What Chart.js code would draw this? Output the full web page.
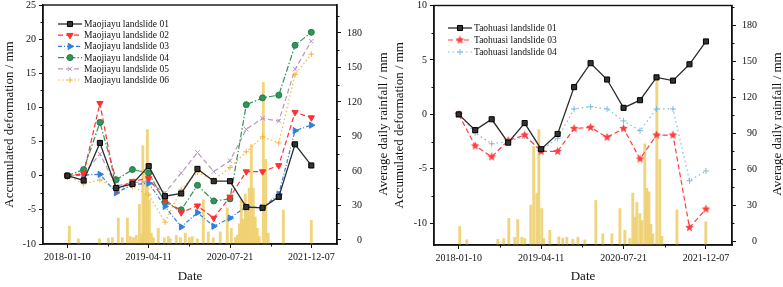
<!DOCTYPE html>
<html><head><meta charset="utf-8">
<script src="https://cdn.jsdelivr.net/npm/chart.js@4/dist/chart.umd.min.js"></script>
<style>
html,body{margin:0;padding:0;background:#fff;}
#wrap{position:relative;width:783px;height:287px;overflow:hidden;}
.c{position:absolute;top:0;height:287px;}
#c1{left:0;width:390px;}
#c2{left:390px;width:393px;}
</style></head><body>
<div id="wrap"><div class="c" id="c1"><canvas id="left"></canvas></div><div class="c" id="c2"><canvas id="right"></canvas></div></div>
<script>
// ---- data ----
const xTickLabels = ['2018-01-10','2019-04-11','2020-07-21','2021-12-07'];
const surveyIndex = [0,1,2,3,4,5,6,7,8,9,10,11,12,13,14,15];

const mao01 = [0,-0.7,4.8,-1.8,-1.2,1.4,-3.0,-2.6,1.0,-0.8,-0.8,-4.6,-4.7,-3.1,4.6,1.5];
const mao02 = [0,0.3,10.6,-2.0,-0.8,-0.4,-3.5,-5.4,-4.4,-6.2,-3.1,0.6,0.6,1.5,9.3,8.5];
const mao03 = [0,0.1,0.2,-2.5,-1.3,-1.1,-4.5,-7.5,-5.4,-7.4,-6.2,-4.5,-4.7,-2.7,6.6,7.4];
const mao04 = [0,0.9,7.8,-0.6,0.9,0.4,-3.9,-5.0,-1.4,-3.7,-3.4,10.4,11.4,11.8,19.1,21.0];
const mao05 = [0,0.2,3.2,-1.5,-1.0,-0.9,-2.5,0.4,3.4,0.6,2.2,6.8,8.4,8.0,15.6,19.7];
const mao06 = [0,-1.2,-0.6,-1.9,-1.6,-2.8,-6.8,-2.0,0.5,-0.6,1.2,3.5,5.7,4.8,14.8,17.8];

const maoRainDay = [0.12,0.68,1.97,2.52,2.77,3.13,3.38,3.69,3.87,4.06,4.24,4.43,4.55,4.64,4.73,4.82,4.92,5.04,5.16,5.29,5.59,5.96,6.21,6.33,6.70,6.95,7.25,7.50,7.68,7.99,8.36,8.67,8.97,9.40,9.83,10.08,10.33,10.45,10.57,10.69,10.82,10.94,11.06,11.18,11.31,11.43,11.55,11.68,11.80,12.05,12.20,12.35,13.28,15.0];
const maoRainMm  = [12,1,1,1.5,2,19,2,19,3,2,4,31,5,82,40,60,96,35,6,2,10,2,3,1,4,2,6,2,3,1,35,7,2,7,28,10,2,4,14,35,18,40,25,45,83,45,20,10,3,137,70,6,26,17];

const tao01 = [0,-1.45,-0.45,-2.6,-0.8,-3.2,-1.8,2.5,4.7,3.2,0.6,1.3,3.4,3.1,4.6,6.7];
const tao03 = [0,-2.9,-3.9,-2.4,-1.9,-3.4,-3.4,-1.3,-1.2,-2.1,-1.3,-4.1,-1.9,-1.9,-10.4,-8.7];
const tao04 = [0,-1.7,-2.7,-2.5,-2.0,-3.3,-2.2,0.5,0.7,0.5,-0.6,-1.5,0.5,0.5,-6.1,-5.2];

const taoRainDay = [0.06,0.49,2.37,2.73,3.04,3.40,3.58,3.83,4.01,4.37,4.55,4.74,4.86,5.04,5.16,5.53,6.07,6.31,6.56,6.92,7.23,7.65,8.32,8.74,9.29,9.78,10.08,10.38,10.56,10.69,10.81,10.99,11.11,11.29,11.41,11.54,11.66,11.78,12.02,12.20,12.33,13.24,14.99];
const taoRainMm  = [12,1,1.5,2,19,3,18,3,2,30,79,40,93,27,2,9,3.5,2.5,3,1.5,3,1,34,6,6,27,9,2,40,20,32,23,17,81,44,41,14,6,134,68,4,26,16];

const maoDefTicks = [-10,-5,0,5,10,15,20,25];
const taoDefTicks = [-10,-5,0,5,10];
const rainTicks = [0,30,60,90,120,150,180];
const dateTickPos = [0,5,10,15];

// ---- helpers ----
const FONT = '"Liberation Serif","Times New Roman",serif';
const pts = (xs, ys) => xs.map((x, k) => ({x: x, y: ys[k]}));

function makeStar(color, r){
  const s = Math.ceil(r*2+2), c = document.createElement('canvas');
  c.width = s; c.height = s;
  const g = c.getContext('2d');
  g.fillStyle = color; g.beginPath();
  for (let k = 0; k < 10; k++){
    const a = -Math.PI/2 + k*Math.PI/5, rr = (k % 2) ? r*0.45 : r;
    g.lineTo(s/2 + rr*Math.cos(a), s/2 + rr*Math.sin(a));
  }
  g.closePath(); g.fill();
  return c;
}

function lineDs(label, data, color, dash, style, opts){
  return Object.assign({
    type:'line', label, data: pts(surveyIndex, data), xAxisID:'x', yAxisID:'y',
    borderColor: color, borderWidth: 1.2, borderDash: dash, fill:false, tension:0,
    pointStyle: style, pointRadius: 3.2, pointBorderWidth: 1,
    pointBackgroundColor: color, pointBorderColor: color, pointRotation: 0, order: 1
  }, opts || {});
}

function barDs(days, mm, axisMin){
  return {
    type:'bar', label:'rain', data: pts(days, mm), xAxisID:'x', yAxisID:'y2',
    backgroundColor:'rgba(238,206,108,0.88)', borderWidth:0, barThickness:2.2,
    base: axisMin, order: 10
  };
}

const boxPlugin = {
  id:'box',
  afterDraw(chart){
    const a = chart.chartArea, ctx = chart.ctx;
    ctx.save(); ctx.strokeStyle = '#111'; ctx.lineWidth = 1.4;
    ctx.strokeRect(a.left, a.top, a.right - a.left, a.bottom - a.top);
    ctx.restore();
  }
};

const minorTicks = {
  id:'minorTicks',
  afterDraw(chart, args, opts){
    const ctx = chart.ctx, a = chart.chartArea;
    ctx.save(); ctx.strokeStyle = '#111'; ctx.lineWidth = 1;
    (opts.list || []).forEach(item => {
      const sc = chart.scales[item.axis];
      item.values.forEach(v => {
        const p = Math.round(sc.getPixelForValue(v)) + 0.5;
        ctx.beginPath();
        if (item.axis === 'x'){ ctx.moveTo(p, a.bottom); ctx.lineTo(p, a.bottom + 2.5); }
        else if (sc.position === 'left'){ ctx.moveTo(a.left, p); ctx.lineTo(a.left - 2.5, p); }
        else { ctx.moveTo(a.right, p); ctx.lineTo(a.right + 2.5, p); }
        ctx.stroke();
      });
    });
    ctx.restore();
  }
};

const extraTitles = {
  id:'extraTitles',
  afterDraw(chart, args, opts){
    const ctx = chart.ctx;
    (opts.items || []).forEach(t => {
      ctx.save();
      ctx.translate(t.x, t.y); ctx.rotate(-Math.PI/2);
      ctx.font = '13px ' + FONT; ctx.fillStyle = '#111';
      ctx.textAlign = 'center'; ctx.textBaseline = 'middle';
      ctx.fillText(t.text, 0, 0);
      ctx.restore();
    });
  }
};

const insideLegend = {
  id:'insideLegend',
  afterDraw(chart, args, opts){
    const ctx = chart.ctx;
    let y = opts.y;
    chart.data.datasets.forEach(ds => {
      if (ds.type === 'bar') return;
      ctx.save();
      ctx.strokeStyle = ds.borderColor; ctx.lineWidth = ds.borderWidth;
      ctx.setLineDash(ds.borderDash || []);
      ctx.beginPath(); ctx.moveTo(opts.x, y); ctx.lineTo(opts.x + opts.len, y); ctx.stroke();
      ctx.setLineDash([]);
      ctx.fillStyle = ds.pointBackgroundColor; ctx.strokeStyle = ds.pointBorderColor;
      ctx.lineWidth = ds.pointBorderWidth;
      try {
        Chart.helpers.drawPoint(ctx, {pointStyle: ds.pointStyle, rotation: ds.pointRotation || 0,
          radius: ds.pointRadius, borderWidth: ds.pointBorderWidth}, opts.x + opts.len/2, y);
      } catch(e) {}
      ctx.fillStyle = '#111'; ctx.font = opts.size + 'px ' + FONT;
      ctx.textAlign = 'left'; ctx.textBaseline = 'middle';
      ctx.fillText(ds.label, opts.x + opts.len + 2, y + 0.5);
      ctx.restore();
      y += opts.rowH;
    });
  }
};

function fixTicks(vals){ return s => { s.ticks = vals.map(v => ({value: v})); }; }
function noPad(s){ s.paddingTop = 0; s.paddingBottom = 0; s.paddingLeft = 0; s.paddingRight = 0; }

function buildScales(cfg){
  const grid = () => ({display:true, drawOnChartArea:false, drawTicks:true, tickLength:4, color:'#111', tickWidth:1, offset:false});
  const border = () => ({display:true, color:'#111', width:1.4});
  return {
    x: {
      type:'linear', min:-1.5, max:16.58, offset:false, grid: grid(), border: border(),
      afterBuildTicks: fixTicks(dateTickPos),
      ticks: {autoSkip:false, maxRotation:0, color:'#111', font:{family:FONT, size:10}, padding:3,
        callback: v => xTickLabels[dateTickPos.indexOf(v)]},
      title: {display:true, text:'Date', color:'#111', font:{family:FONT, size:13}, padding:{top:0, bottom:3}},
      afterFit: s => { s.height = cfg.xH; noPad(s); }
    },
    y: {
      type:'linear', position:'left', min: cfg.yMin, max: cfg.yMax, grid: grid(), border: border(),
      afterBuildTicks: fixTicks(cfg.yTicks),
      ticks: {color:'#111', font:{family:FONT, size:10}, padding:3},
      title: {display:true, text:'Accumulated deformation / mm', color:'#111', font:{family:FONT, size:13}, padding:{top:2,bottom:0}},
      afterFit: s => { s.width = cfg.yW; noPad(s); }
    },
    y2: {
      type:'linear', position:'right', min: cfg.rMin, max: cfg.rMax, beginAtZero:false, grid: grid(), border: border(),
      afterBuildTicks: fixTicks(rainTicks),
      ticks: {color:'#111', font:{family:FONT, size:10}, padding:3, crossAlign:'far'},
      title: {display:false},
      afterFit: s => { s.width = cfg.rW; noPad(s); }
    }
  };
}

function minorList(yVals, rVals){
  return [{axis:'x', values:[2.5,7.5,12.5]}, {axis:'y', values:yVals}, {axis:'y2', values:rVals}];
}
const rainMinor = [15,45,75,105,135,165,195];

// ---- left chart ----
new Chart(document.getElementById('left'), {
  type:'line',
  data: { datasets: [
    lineDs('Maojiayu landslide 01', mao01, '#2b2b2b', [], 'rect', {borderWidth:1.3, pointBackgroundColor:'#333', pointBorderColor:'#000', pointRadius:3.6}),
    lineDs('Maojiayu landslide 02', mao02, '#ff3030', [5,3], 'triangle', {pointRotation:180, pointRadius:3.6}),
    lineDs('Maojiayu landslide 03', mao03, '#2f7fe0', [4,2,1,2], 'triangle', {pointRotation:90, pointRadius:3.6}),
    lineDs('Maojiayu landslide 04', mao04, '#2e9658', [6,2,1.5,2], 'circle', {pointRadius:3, pointBorderColor:'#1f7a44'}),
    lineDs('Maojiayu landslide 05', mao05, '#b898bc', [5,3], 'crossRot', {pointRadius:3.2}),
    lineDs('Maojiayu landslide 06', mao06, '#f3b640', [1.5,2.5], 'cross', {pointRadius:2.8}),
    barDs(maoRainDay, maoRainMm, -3.5)
  ]},
  options: {
    responsive:true, maintainAspectRatio:false, devicePixelRatio:1, animation:false,
    layout:{padding:{top:5, left:0, right:28, bottom:0}},
    scales: buildScales({xH:43, yMin:-10, yMax:25, yTicks:maoDefTicks, yW:43, rMin:-3.5, rMax:204.3, rW:25}),
    plugins: {
      legend:{display:false}, tooltip:{enabled:false},
      insideLegend:{x:58, y:24, len:24, rowH:11.2, size:9.5},
      minorTicks:{list: minorList([-7.5,-2.5,2.5,7.5,12.5,17.5,22.5], rainMinor)},
      extraTitles:{items:[{text:'Average daily rainfall / mm', x:384, y:124}]}
    }
  },
  plugins:[boxPlugin, minorTicks, extraTitles, insideLegend]
});

// ---- right chart ----
const starRed = makeStar('#ff3d3d', 4.5);
new Chart(document.getElementById('right'), {
  type:'line',
  data: { datasets: [
    lineDs('Taohuasi landslide 01', tao01, '#2b2b2b', [], 'rect', {borderWidth:1.3, pointBackgroundColor:'#333', pointBorderColor:'#000', pointRadius:3.6}),
    lineDs('Taohuasi landslide 03', tao03, '#ff3d3d', [5,3], starRed, {pointRadius:4.5}),
    lineDs('Taohuasi landslide 04', tao04, '#7fbcd6', [1.5,3], 'cross', {pointRadius:3}),
    barDs(taoRainDay, taoRainMm, -3.3)
  ]},
  options: {
    responsive:true, maintainAspectRatio:false, devicePixelRatio:1, animation:false,
    layout:{padding:{top:3, left:0, right:26, bottom:0}},
    scales: buildScales({xH:42, yMin:-12, yMax:10, yTicks:taoDefTicks, yW:44, rMin:-3.3, rMax:196.5, rW:25}),
    plugins: {
      legend:{display:false}, tooltip:{enabled:false},
      insideLegend:{x:58, y:28, len:24, rowH:12, size:9.5},
      minorTicks:{list: minorList([-7.5,-2.5,2.5,7.5], rainMinor)},
      extraTitles:{items:[{text:'Average daily rainfall / mm', x:388, y:124}]}
    }
  },
  plugins:[boxPlugin, minorTicks, extraTitles, insideLegend]
});
</script>
</body></html>
